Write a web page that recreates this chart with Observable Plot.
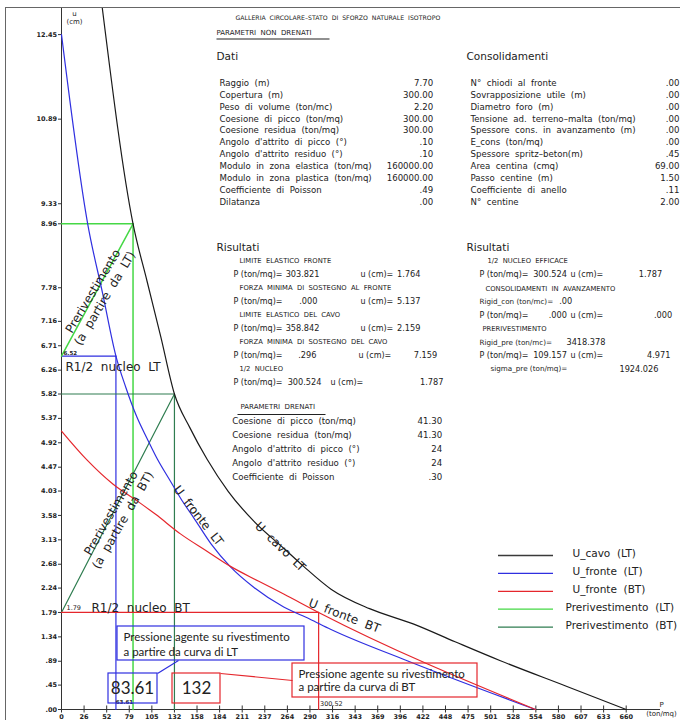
<!DOCTYPE html>
<html><head><meta charset="utf-8">
<script src="https://cdn.jsdelivr.net/npm/d3@7"></script>
<script src="https://cdn.jsdelivr.net/npm/@observablehq/plot@0.6"></script>
<style>
html,body{margin:0;padding:0;background:#fff;}
#wrap{position:relative;width:680px;height:720px;overflow:hidden;background:#fff;}
#wrap svg{position:absolute;left:0;top:0;}
#border{position:absolute;left:5px;top:7px;width:700px;height:730px;border-left:1px solid #666;border-top:1px solid #666;pointer-events:none;}
svg text{white-space:pre;}
</style></head><body>
<div id="wrap"><div id="border"></div></div>
<script>
// ---------------- DATA ----------------
// U_cavo (LT) curve: P (ton/mq) vs u (cm)
const cavoP = [47.6, 83.61, 100, 116, 132, 150, 170, 195, 225, 260, 283, 315, 360, 411, 460, 513, 590, 660];
const cavoU = [12.95, 8.96, 7.9, 6.88, 5.82, 5.2, 4.62, 4.02, 3.47, 2.97, 2.64, 2.22, 1.86, 1.58, 1.25, 0.9, 0.43, 0];
// U_fronte (LT)
const fronteLTP = [0, 30.7, 48, 63.61, 75, 88, 100, 112, 127, 141, 154, 175, 197.5, 225, 259.7, 290, 314.4, 404, 554];
const fronteLTU = [12.45, 8.95, 7.68, 6.52, 5.95, 5.4, 5.0, 4.62, 4.22, 3.85, 3.55, 3.05, 2.63, 2.25, 1.89, 1.67, 1.48, 0.9, 0];
// U_fronte (BT)
const fronteBTP = [0, 30, 60, 90, 110, 139, 170, 197.5, 230, 259.7, 300.52, 554];
const fronteBTU = [5.137, 4.6, 4.16, 3.83, 3.6, 3.24, 2.92, 2.64, 2.37, 2.13, 1.79, 0];
// Prerivestimento / nucleo values
const nucleoLT = {p: 63.61, u: 6.52};
const preLT = {p: 83.61, u: 8.96};
const nucleoBT = {p: 300.52, u: 1.79};
const preBT = {p: 132, u: 5.82};
// axis ticks
const xTicks = [0,26.4,52.8,79.2,105.6,132,158.4,184.8,211.2,237.6,264,290.4,316.8,343.2,369.6,396,422.4,448.8,475.2,501.6,528,554.4,580.8,607.2,633.6,660];
const xTickLabels = ["0","26","52","79","105","132","158","184","211","237","264","290","316","343","369","396","422","448","475","501","528","554","580","607","633","660"];
const yTicks = [0,0.45,0.89,1.34,1.79,2.24,2.68,3.13,3.58,4.03,4.47,4.92,5.37,5.82,6.26,6.71,7.16,7.78,8.96,9.33,10.89,12.45];
const yTickLabels = [".00",".45",".89","1.34","1.79","2.24","2.68","3.13","3.58","4.03","4.47","4.92","5.37","5.82","6.26","6.71","7.16","7.78","8.96","9.33","10.89","12.45"];
// legend
const legendLabels = ["U_cavo  (LT)","U_fronte  (LT)","U_fronte  (BT)","Prerivestimento  (LT)","Prerivestimento  (BT)"];
// text panel
const datiLabels = ["Raggio  (m)","Copertura  (m)","Peso  di  volume  (ton/mc)","Coesione  di  picco  (ton/mq)","Coesione  residua  (ton/mq)","Angolo  d'attrito  di  picco  (°)","Angolo  d'attrito  residuo  (°)","Modulo  in  zona  elastica  (ton/mq)","Modulo  in  zona  plastica  (ton/mq)","Coefficiente  di  Poisson","Dilatanza"];
const datiValues = ["7.70","300.00","2.20","300.00","300.00",".10",".10","160000.00","160000.00",".49",".00"];
const consLabels = ["N°  chiodi  al  fronte","Sovrapposizione  utile  (m)","Diametro  foro  (m)","Tensione  ad.  terreno–malta  (ton/mq)","Spessore  cons.  in  avanzamento  (m)","E_cons  (ton/mq)","Spessore  spritz–beton(m)","Area  centina  (cmq)","Passo  centine  (m)","Coefficiente  di  anello","N°  centine"];
const consValues = [".00",".00",".00",".00",".00",".00",".45","69.00","1.50",".11","2.00"];
const resHeads = ["LIMITE  ELASTICO  FRONTE","FORZA  MINIMA  DI  SOSTEGNO  AL  FRONTE","LIMITE  ELASTICO  DEL  CAVO","FORZA  MINIMA  DI  SOSTEGNO  DEL  CAVO","1/2  NUCLEO"];
const resP = ["303.821",".000","358.842",".296","300.524"];
const resU = ["1.764","5.137","2.159","7.159","1.787"];
const drenLabels = ["Coesione  di  picco  (ton/mq)","Coesione  residua  (ton/mq)","Angolo  d'attrito  di  picco  (°)","Angolo  d'attrito  residuo  (°)","Coefficiente  di  Poisson"];
const drenValues = ["41.30","41.30","24","24",".30"];

// ---------------- LAYOUT ----------------
const W = 680, H = 720, ML = 61, MR = 54.3, MT = 7, MB = 11;
const xMax = 660, yMax = 12.95;
const kx = (W - ML - MR) / xMax, ky = (H - MT - MB) / yMax;
const X = px => (px - ML) / kx;      // annotation placement helpers
const Y = py => yMax - (py - MT) / ky;

const CAD = "'DejaVu Sans', Verdana, sans-serif";
const CAL = "Lato, 'Open Sans', sans-serif";
const C = {black:"#1a1a1a", blue:"#2f2fe0", red:"#e5262c", lgreen:"#45d845", dgreen:"#2f7d50", text:"#222"};
const legendColors = ["#3a3a3a", C.blue, C.red, C.lgreen, C.dgreen];

function T(s, px, py, o = {}) {
  return Plot.text([s], {
    text: d => d, frameAnchor: "top-left", dx: px - ML, dy: py - MT,
    textAnchor: o.anchor || "start", lineAnchor: "middle",
    fontSize: o.size || 9.5, fontFamily: o.font || CAD, fontWeight: o.weight || "normal",
    fill: o.fill || C.text, rotate: o.rotate || 0, lineHeight: o.lh || 1.1
  });
}
const pts = (P, U) => P.map((p, i) => ({p, u: U[i]}));
const seg = (a, b, color, w) => Plot.line([a, b], {x: d => d[0], y: d => d[1], stroke: color, strokeWidth: w || 1.2});

const marks = [];
// axes
marks.push(
  Plot.ruleX([0], {x: d => d, y1: () => 0, y2: () => yMax, stroke: "#333", strokeWidth: 1}),
  Plot.ruleY([0], {y: d => d, x1: () => 0, x2: () => X(660), stroke: "#333", strokeWidth: 1}),
  Plot.ruleX(xTicks, {x: d => d, y1: () => -0.065, y2: () => 0.065, stroke: "#333"}),
  Plot.ruleY(yTicks, {y: d => d, x1: () => -3.5, x2: () => 0, stroke: "#333"}),
  Plot.text(yTicks, {x: () => 0, y: d => d, text: (d, i) => yTickLabels[i], dx: -4.5, textAnchor: "end", fontSize: 6.5, fontWeight: "bold", fontFamily: CAD, fill: "#222"}),
  Plot.text(xTicks, {x: d => d, y: () => 0, text: (d, i) => xTickLabels[i], dy: 7.8, fontSize: 6.5, fontWeight: "bold", fontFamily: CAD, fill: "#222"})
);
marks.push(T("u", 74, 13, {anchor: "middle", size: 7}), T("(cm)", 74, 21, {anchor: "middle", size: 7}));
marks.push(T("P", 661, 704.5, {anchor: "middle", size: 7}), T("(ton/mq)", 661, 713.5, {anchor: "middle", size: 7}));

// guide lines
marks.push(
  seg([0, nucleoLT.u], [nucleoLT.p, nucleoLT.u], C.blue),
  seg([nucleoLT.p, nucleoLT.u], [nucleoLT.p, 0], C.blue),
  seg([0, nucleoLT.u], [preLT.p, preLT.u], C.lgreen, 1.5),
  seg([0, preLT.u], [preLT.p, preLT.u], C.lgreen, 1.5),
  seg([preLT.p, preLT.u], [preLT.p, 0], C.lgreen, 1.5),
  seg([0, nucleoBT.u], [preBT.p, preBT.u], C.dgreen),
  seg([0, preBT.u], [preBT.p, preBT.u], C.dgreen),
  seg([preBT.p, preBT.u], [preBT.p, 0], C.dgreen),
  seg([0, nucleoBT.u], [nucleoBT.p, nucleoBT.u], C.red),
  seg([nucleoBT.p, nucleoBT.u], [nucleoBT.p, 0], C.red)
);
// curves
marks.push(
  Plot.line(pts(cavoP, cavoU), {x: "p", y: "u", stroke: C.black, strokeWidth: 1.2, curve: "monotone-x"}),
  Plot.line(pts(fronteLTP, fronteLTU), {x: "p", y: "u", stroke: C.blue, strokeWidth: 1.2, curve: "monotone-x"}),
  Plot.line(pts(fronteBTP, fronteBTU), {x: "p", y: "u", stroke: C.red, strokeWidth: 1.2, curve: "monotone-x"})
);
// curve labels
marks.push(
  T("Prerivestimento\n(a  partire  da  LT)", 98, 294, {anchor: "middle", size: 12, rotate: -59, lh: 1.15}),
  T("Prerivestimento\n(a  partire  da  BT)", 116, 516, {anchor: "middle", size: 12, rotate: -60, lh: 1.15}),
  T("R1/2  nucleo  LT", 65, 366, {size: 12}),
  T("R1/2  nucleo  BT", 91, 607, {size: 12}),
  T("6.52", 63, 353, {size: 5.5, weight: "bold"}),
  T("1.79", 66, 607, {size: 6.5}),
  T("U  fronte  LT", 198, 515, {anchor: "middle", size: 12, rotate: 52}),
  T("U  cavo  LT", 280, 546, {anchor: "middle", size: 12, rotate: 44}),
  T("U  fronte  BT", 344, 615, {anchor: "middle", size: 12, rotate: 21}),
  T("63.61", 124, 702, {anchor: "middle", size: 5.5, weight: "bold"}),
  T("300.52", 319.5, 703, {size: 6.5})
);
// boxes
const box = (x1, y1, x2, y2, color) => Plot.rect([0], {x1: () => X(x1), x2: () => X(x2), y1: () => Y(y2), y2: () => Y(y1), fill: "none", stroke: color, strokeWidth: 1.2});
const link = (x1, y1, x2, y2, color) => Plot.link([0], {x1: () => X(x1), y1: () => Y(y1), x2: () => X(x2), y2: () => Y(y2), stroke: color, strokeWidth: 1.2});
marks.push(
  box(117, 626, 304, 660, C.blue),
  T("Pressione agente su rivestimento", 123, 636, {font: CAL, size: 11.5}),
  T("a partire da curva di LT", 123, 651, {font: CAL, size: 11.5}),
  box(108, 673, 157, 703, C.blue),
  T("83.61", 132, 688, {font: CAL, size: 17, anchor: "middle"}),
  link(157, 673, 178, 660, C.blue),
  box(172, 673, 220, 703, C.red),
  T("132", 196, 688, {font: CAL, size: 17, anchor: "middle"}),
  link(220, 673, 292, 680, C.red),
  box(292, 663, 477, 697, C.red),
  T("Pressione agente su rivestimento", 298, 673, {font: CAL, size: 11.5}),
  T("a partire da curva di BT", 298, 686, {font: CAL, size: 11.5})
);
// legend
marks.push(Plot.ruleY(legendLabels, {y: (d, i) => Y(555 + 17.9 * i), x1: () => X(498), x2: () => X(553), stroke: (d, i) => legendColors[i], strokeWidth: 1.3}));
legendLabels.forEach((s, i) => marks.push(T(s, i < 3 ? 572 : 565, 553 + 17.9 * i, {size: 10.5})));

// text panel
const RS = 8, RR = 7.2, RV = 8.2;
marks.push(
  T("GALLERIA  CIRCOLARE–STATO  DI  SFORZO  NATURALE  ISOTROPO", 235, 17, {size: 6.2}),
  T("PARAMETRI  NON  DRENATI", 216, 32, {size: 7}),
  link(216, 38.5, 329, 38.5, "#222"),
  T("Dati", 216, 56, {size: 10.5}),
  T("Consolidamenti", 466, 56, {size: 10.5})
);
datiLabels.forEach((s, i) => marks.push(T(s, 219, 82.3 + 11.9 * i, {size: 8.6}), T(datiValues[i], 432.7, 82.3 + 11.9 * i, {size: 8.6, anchor: "end"})));
consLabels.forEach((s, i) => marks.push(T(s, 470, 82.3 + 11.9 * i, {size: 8.6}), T(consValues[i], 679, 82.3 + 11.9 * i, {size: 8.6, anchor: "end"})));
marks.push(T("Risultati", 216, 246.5, {size: 10.5}), T("Risultati", 466, 246.5, {size: 10.5}));
const v1x = [319, 317, 319, 316, 321], ux = [360, 360, 360, 358, 330], v2x = [420, 420, 420, 436.7, 443];
resHeads.forEach((s, i) => {
  const yh = 260 + 27.1 * i, yr = 273.3 + 27.1 * i;
  marks.push(T(s, 239, yh, {size: 6.8}), T("P (ton/mq)=", 233, yr, {size: RS}),
    T(resP[i], v1x[i], yr, {size: RV, anchor: "end"}), T("u (cm)=", ux[i], yr, {size: RS}),
    T(resU[i], v2x[i], yr, {size: RV, anchor: "end"}));
});
marks.push(
  T("1/2  NUCLEO  EFFICACE", 487, 260, {size: 6.8}),
  T("P (ton/mq)=", 479, 273.3, {size: RS}), T("300.524", 566.5, 273.3, {size: RV, anchor: "end"}),
  T("u (cm)=", 570, 273.3, {size: RS}), T("1.787", 661.7, 273.3, {size: RV, anchor: "end"}),
  T("CONSOLIDAMENTI  IN  AVANZAMENTO", 485, 287.7, {size: 6.8}),
  T("Rigid_con (ton/mc)=", 479, 300.7, {size: RR}), T(".00", 571.7, 300.7, {size: RV, anchor: "end"}),
  T("P (ton/mq)=", 479, 315, {size: RS}), T(".000", 566.5, 315, {size: RV, anchor: "end"}),
  T("u (cm)=", 570, 315, {size: RS}), T(".000", 671.7, 315, {size: RV, anchor: "end"}),
  T("PRERIVESTIMENTO", 482, 327.7, {size: 6.8}),
  T("Rigid_pre (ton/mc)=", 479, 341.7, {size: RR}), T("3418.378", 605, 341.7, {size: RV, anchor: "end"}),
  T("P (ton/mq)=", 479, 355, {size: RS}), T("109.157", 566.5, 355, {size: RV, anchor: "end"}),
  T("u (cm)=", 570, 355, {size: RS}), T("4.971", 670, 355, {size: RV, anchor: "end"}),
  T("sigma_pre (ton/mq)=", 490, 368.3, {size: RR}), T("1924.026", 658, 368.3, {size: RV, anchor: "end"})
);
marks.push(T("PARAMETRI  DRENATI", 240, 405.7, {size: 7}), link(237, 414, 325, 414, "#222"));
drenLabels.forEach((s, i) => marks.push(T(s, 231.7, 420 + 14.15 * i, {size: 8.6}), T(drenValues[i], 441.7, 420 + 14.15 * i, {size: 8.6, anchor: "end"})));

const chart = Plot.plot({
  width: W, height: H, marginLeft: ML, marginRight: MR, marginTop: MT, marginBottom: MB,
  x: {domain: [0, xMax], axis: null},
  y: {domain: [0, yMax], axis: null},
  style: {background: "transparent", fontFamily: CAD, overflow: "visible"},
  marks
});
document.getElementById("wrap").prepend(chart);
</script>
</body></html>
